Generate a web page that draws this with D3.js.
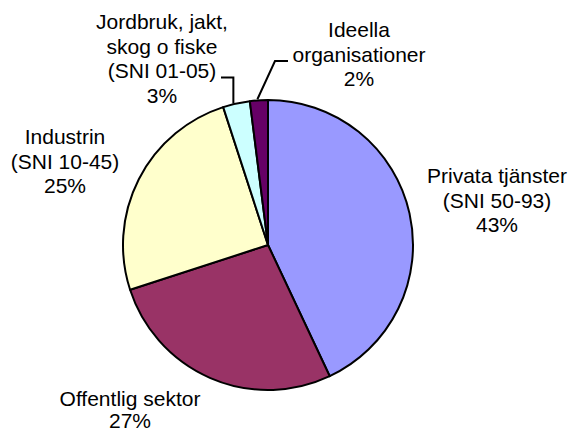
<!DOCTYPE html>
<html lang="sv">
<head>
<meta charset="utf-8">
<title>Sektorer</title>
<script src="https://d3js.org/d3.v7.min.js"></script>
<style>
body { margin: 0; background: #fff; }
text { font-family: "Liberation Sans", Arial, sans-serif; font-size: 21px; fill: #000; }
</style>
</head>
<body>
<script>
// data
var categories = ["Privata tjänster", "Offentlig sektor", "Industrin", "Jordbruk, jakt, skog o fiske", "Ideella organisationer"];
var labelLines = [
  ["Privata tjänster", "(SNI 50-93)"],
  ["Offentlig sektor"],
  ["Industrin", "(SNI 10-45)"],
  ["Jordbruk, jakt,", "skog o fiske", "(SNI 01-05)"],
  ["Ideella", "organisationer"]
];
var values = [43, 27, 25, 3, 2];
var colors = ["#9999ff", "#993366", "#ffffcc", "#ccffff", "#660066"];

var w = 569, h = 434;
var cx = 268, cy = 245, r = 145;

// label placement: centre x, first baseline, line step
var labelPos = [[497, 183, 24.5], [130, 406, 22], [65, 144, 24.5], [162, 29, 24.5], [359, 37, 24.5]];
// leader lines only for the small slices: index -> label end point
var leaders = { 3: [221, 77.5], 4: [288, 61] };

var svg = d3.select("body").append("svg")
  .attr("width", w).attr("height", h);

var pie = d3.pie().sort(null).value(function(d) { return d; });
var arc = d3.arc().innerRadius(0).outerRadius(r);
var edge = d3.arc().innerRadius(r).outerRadius(r);

var g = svg.append("g").attr("transform", "translate(" + cx + "," + cy + ")");

var arcs = pie(values);

g.selectAll("path.slice")
  .data(arcs)
  .enter().append("path")
  .attr("class", "slice")
  .attr("d", arc)
  .attr("fill", function(d, i) { return colors[i]; })
  .attr("stroke", "#000")
  .attr("stroke-width", 2)
  .attr("stroke-linejoin", "round");

// leader lines
arcs.forEach(function(d, i) {
  if (!leaders[i]) return;
  var p = edge.centroid(d);
  var ex = p[0] + cx, ey = p[1] + cy;
  var lx = leaders[i][0], ly = leaders[i][1];
  var path;
  if (i === 3) {
    path = "M" + lx + "," + ly + "H" + (ex - 3) + "V" + ey;
  } else {
    path = "M" + lx + "," + ly + "H" + (lx - 13) + "L" + (ex - 1.5) + "," + (ey - 1);
  }
  svg.append("path")
    .attr("d", path)
    .attr("fill", "none")
    .attr("stroke", "#000")
    .attr("stroke-width", 2);
});

// labels
arcs.forEach(function(d, i) {
  var lines = labelLines[i].concat([d3.format(".0f")(values[i]) + "%"]);
  var t = svg.append("text")
    .attr("text-anchor", "middle")
    .attr("x", labelPos[i][0])
    .attr("y", labelPos[i][1]);
  lines.forEach(function(s, k) {
    t.append("tspan")
      .attr("x", labelPos[i][0])
      .attr("y", labelPos[i][1] + k * labelPos[i][2])
      .text(s);
  });
});
</script>
</body>
</html>
